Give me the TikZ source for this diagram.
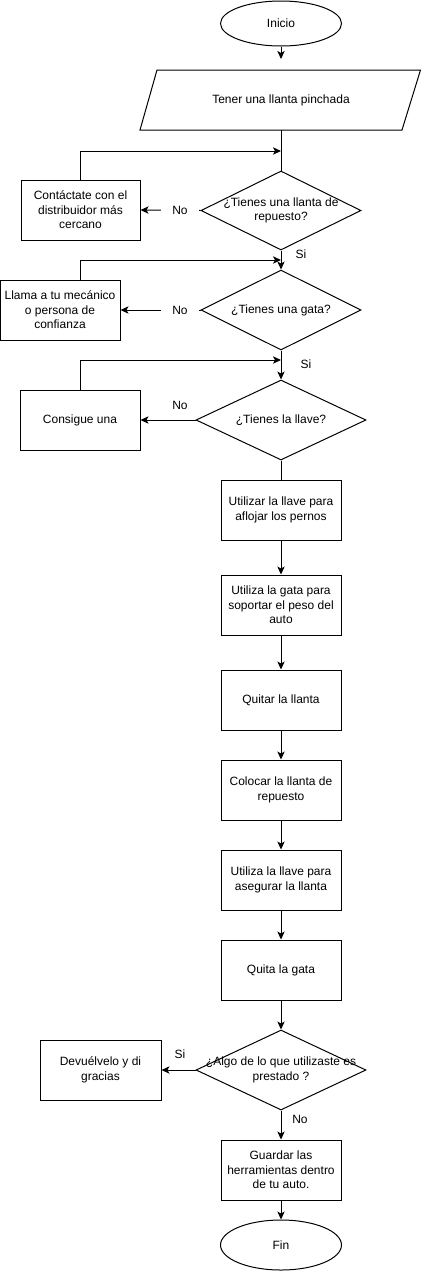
\documentclass[tikz,border=0pt]{standalone}
\usepackage{fontspec}
\setmainfont{Liberation Sans}
\usetikzlibrary{shapes.geometric,arrows.meta}
\begin{document}
\begin{tikzpicture}[x=0.75pt,y=-0.75pt,
  every node/.style={font=\fontsize{9}{10.9}\selectfont, text=black},
  proc/.style={draw, line width=0.75pt, rectangle, minimum width=90pt, minimum height=45pt, inner sep=0pt, align=center},
  term/.style={draw, line width=0.75pt, ellipse, minimum width=90.75pt, inner sep=0pt},
  dec/.style={draw, line width=0.75pt, diamond, inner sep=0pt},
  dtext/.style={align=center, inner sep=0pt},
  lbl/.style={inner sep=1pt},
  gap/.style={fill=white, inner sep=0pt, minimum width=28pt, minimum height=10pt},
  conn/.style={line width=0.75pt},
  arr/.style={conn, -{Stealth[length=6pt,width=5.5pt,inset=1.5pt]}}
]
\useasboundingbox (0,0) rectangle (421,1271);

% terminals
\node[term, minimum height=33.75pt] (ini) at (281,23.5) {Inicio};
\node[term, minimum height=37.5pt] (fin) at (281,1245) {Fin};

% input parallelogram
\draw[conn] (157,70) -- (420.5,70) -- (402,130) -- (140,130) -- cycle;
\node[minimum width=196pt, minimum height=45pt, inner sep=0pt] (p) at (281,100) {Tener una llanta pinchada};

% decisions
\node[dec, minimum width=120pt, minimum height=59.25pt] (d1) at (281,210.5) {};
\node[dtext] at (d1) {¿Tienes una llanta de\\repuesto?};
\node[dec, minimum width=120pt, minimum height=60pt] (d2) at (281,310) {};
\node[dtext] at (d2) {¿Tienes una gata?};
\node[dec, minimum width=127.5pt, minimum height=60pt] (d3) at (281,420) {};
\node[dtext] at (d3) {¿Tienes la llave?};
\node[dec, minimum width=127.5pt, minimum height=60pt] (d4) at (281,1070) {};
\node[dtext] at (d4) {¿Algo de lo que utilizaste es\\prestado ?};

% side boxes
\node[proc, minimum width=89.25pt] (c1) at (80.5,210) {Contáctate con el\\distribuidor más\\cercano};
\node[proc] (c2) at (60,310) {Llama a tu mecánico\\o persona de\\confianza};
\node[proc] (c3) at (80,420) {Consigue una};
\node[proc, minimum width=90.75pt] (dev) at (100.5,1070) {Devuélvelo y di\\gracias};

% main column
\node[proc] (b1) at (281,510) {Utilizar la llave para\\aflojar los pernos};
\node[proc] (b2) at (281,605) {Utiliza la gata para\\soportar el peso del\\auto};
\node[proc] (b3) at (281,700) {Quitar la llanta};
\node[proc] (b4) at (281,790) {Colocar la llanta de\\repuesto};
\node[proc] (b5) at (281,880) {Utiliza la llave para\\asegurar la llanta};
\node[proc] (b6) at (281,970) {Quita la gata};
\node[proc] (b7) at (281,1170) {Guardar las\\herramientas dentro\\de tu auto.};

% junction points
\coordinate (a0) at (281,59);
\coordinate (j1) at (281,151);
\coordinate (j2) at (281,260);
\coordinate (j3) at (281,360);

% connectors
\draw[arr] (ini) -- (a0);
\draw[conn] (p.south) -- (d1.north);
\draw[arr] (c1.north) |- (j1);
\draw[arr] (d1.west) -- (c1.east);
\node[gap] at (180,210) {No};
\node[lbl] at (301,254) {Si};

\draw[arr] (d1.south) -- (d2.north);
\draw[arr] ([xshift=15pt]c2.north) |- (j2);
\draw[arr] (d2.west) -- (c2.east);
\node[gap] at (180,310) {No};

\draw[arr] (d2.south) -- (d3.north);
\draw[arr] (c3.north) |- (j3);
\node[lbl] at (306,364) {Si};
\draw[arr] (d3.west) -- (c3.east);
\node[lbl] at (180,405) {No};

\draw[conn] (d3.south) -- (b1.north);
\draw[arr] (b1) -- (b2);
\draw[arr] (b2) -- (b3);
\draw[arr] (b3) -- (b4);
\draw[arr] (b4) -- (b5);
\draw[arr] (b5) -- (b6);
\draw[arr] (b6) -- (d4.north);

\draw[arr] (d4.west) -- (dev.east);
\node[lbl] at (180,1054) {Si};
\draw[arr] (d4.south) -- (b7.north);
\node[lbl] at (300,1119) {No};
\draw[arr] (b7) -- (fin);
\end{tikzpicture}
\end{document}
